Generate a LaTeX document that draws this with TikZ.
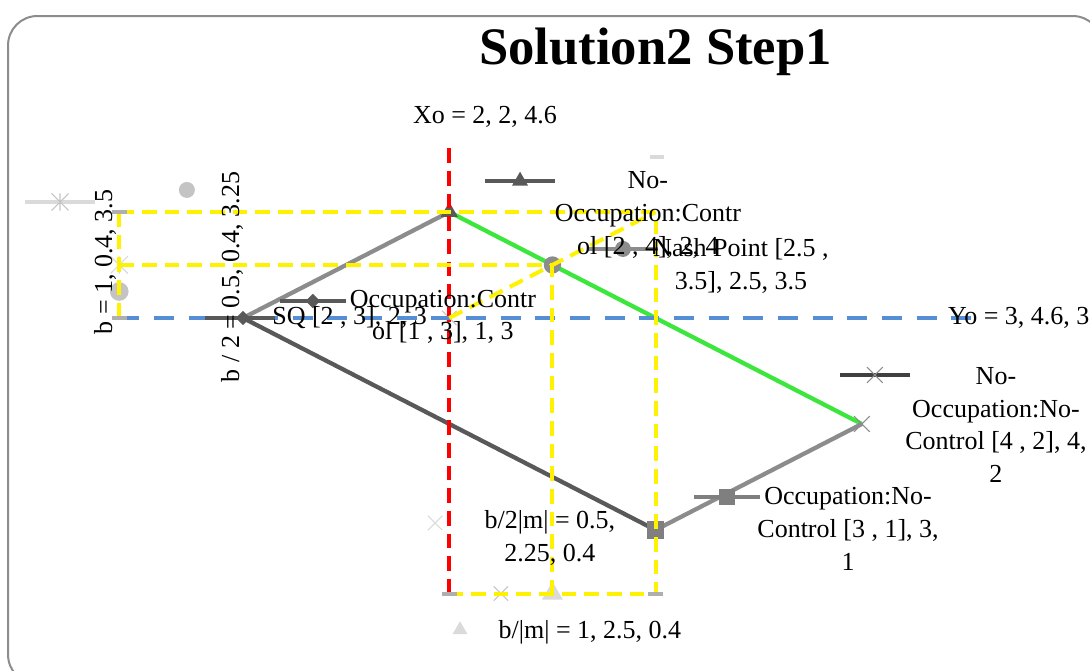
\documentclass[tikz,border=0pt]{standalone}
\usepackage{fontspec}
\setmainfont{Liberation Serif}
\usetikzlibrary{shapes.geometric,shapes.misc}

\definecolor{framegray}{HTML}{8C8C8C}
\definecolor{dkgray}{HTML}{595959}
\definecolor{midgray}{HTML}{7F7F7F}
\definecolor{ltgray}{HTML}{8C8C8C}
\definecolor{palegray}{HTML}{C4C4C4}
\definecolor{fadegray}{HTML}{DADADA}
\definecolor{solgreen}{HTML}{3CE63C}
\definecolor{guideblue}{HTML}{558ED5}

\begin{document}
\begin{tikzpicture}[x=154.725pt, y=79.5pt,
  lbl/.style={font=\fontsize{19.5}{24.5}\selectfont, align=center, inner sep=0pt},
  seg/.style={line width=3.2pt},
  guide/.style={line width=3pt, dash pattern=on 11pt off 6pt},
  keyline/.style={line width=3.5pt},
  diamondmark/.style={diamond, fill=#1, inner sep=0pt, minimum size=11pt},
  trimark/.style={regular polygon, regular polygon sides=3, fill=#1, inner sep=0pt, minimum size=14pt},
  dotmark/.style={circle, fill=#1, inner sep=0pt, minimum size=12pt},
  sqmark/.style={rectangle, fill=#1, inner sep=0pt, minimum size=12pt},
  xmark/.style={cross out, draw=#1, line width=0.8pt, inner sep=0pt, minimum size=10pt},
  dashmark/.style={rectangle, fill=#1, inner sep=0pt, minimum width=11pt, minimum height=3pt},
  astmark/.style={rectangle, inner sep=0pt, minimum size=13pt, path picture={
    \draw[#1, line width=0.8pt] (path picture bounding box.north west) -- (path picture bounding box.south east)
      (path picture bounding box.south west) -- (path picture bounding box.north east)
      (path picture bounding box.north) -- (path picture bounding box.south);}}]
\useasboundingbox (-0.178,-0.330) rectangle (5.106,6.0);
\draw[framegray, line width=1.5pt, rounded corners=22pt] (-0.139,-0.453) rectangle (5.164,5.849);
\node[font=\fontsize{39.5}{44}\selectfont\bfseries] (title) at (3.0,5.51) {Solution2 Step1};

% the four outcomes and the Nash point
\coordinate (occC) at (1,3);
\coordinate (noccC) at (2,4);
\coordinate (occNC) at (3,1);
\coordinate (noccNC) at (4,2);
\coordinate (nash) at (2.5,3.5);
% guide ends
\coordinate (xotop) at (2,4.6);
\coordinate (xobot) at (2,0.4);
\coordinate (yoleft) at (0.4,3);
\coordinate (yoright) at (4.6,3);
\coordinate (b4) at (0.4,4);
\coordinate (b35) at (0.4,3.5);
\coordinate (b325) at (0.4,3.25);
\coordinate (tr) at (3,4);
\coordinate (br) at (3,0.4);
\coordinate (m1) at (2.5,0.4);
\coordinate (m2) at (2.25,0.4);
\coordinate (mid) at (2,3);

\draw[seg, ltgray] (occC) -- (noccC);
\draw[seg, solgreen] (noccC) -- (noccNC);
\draw[seg, ltgray] (noccNC) -- (occNC);
\draw[seg, dkgray] (occNC) -- (occC);

\node[diamondmark=dkgray] (pocc) at (occC) {};
\node[trimark=dkgray, minimum size=15pt] (pnocc) at (noccC) {};
\node[sqmark=midgray, minimum size=13pt] (poccnc) at (occNC) {};
\node[xmark=ltgray, minimum size=11pt] (pnoccnc) at (noccNC) {};
\node[dotmark=ltgray, minimum size=13pt] (pnash) at (nash) {};
\node[xmark=palegray] (pmid) at (mid) {};
\node[astmark=fadegray] (pb35) at (b35) {};
\node[dotmark=palegray, minimum size=14pt] (pb325) at (b325) {};
\node[xmark=palegray] (pm2) at (m2) {};
\node[trimark=fadegray, minimum size=18pt] (pm1) at (m1) {};

% guides
\draw[guide, red] (xotop) -- (xobot);
\draw[guide, guideblue, dash pattern=on 15pt off 11pt] (yoleft) -- (yoright);
\draw[guide, yellow] (b4) -- (tr) -- (br) -- (xobot);
\draw[guide, yellow] (b4) -- (yoleft);
\draw[guide, yellow] (b35) -- (nash) -- (m1);
\draw[guide, yellow] (mid) -- (tr);
\node[dashmark=ltgray!70] (db4) at (b4) {};
\node[dashmark=ltgray!70] (dyo) at (yoleft) {};
\node[dashmark=ltgray!70] (dxo) at (xobot) {};
\node[dashmark=ltgray!70] (dbr) at (br) {};

% label keys
\coordinate (ktri) at (2.343,4.292);
\draw[keyline, dkgray] ([xshift=-26pt]ktri) -- ([xshift=26pt]ktri);
\node[trimark=dkgray] (ktrim) at (ktri) {};
\coordinate (kdot) at (2.842,3.651);
\draw[keyline, ltgray] ([xshift=-26pt]kdot) -- ([xshift=26pt]kdot);
\node[dotmark=ltgray] (kdotm) at (kdot) {};
\coordinate (kdia) at (1.339,3.160);
\draw[keyline, dkgray] ([xshift=-25pt]kdia) -- ([xshift=25pt]kdia);
\node[diamondmark=dkgray] (kdiam) at (kdia) {};
\coordinate (ksq) at (0.986,3.0);
\draw[keyline, dkgray] ([xshift=-26pt]ksq) -- ([xshift=26pt]ksq);
\coordinate (kx) at (4.063,2.462);
\draw[keyline, black!75] ([xshift=-26pt]kx) -- ([xshift=26pt]kx);
\node[xmark=ltgray, minimum size=11pt] (kxm) at (kx) {};
\coordinate (kbox) at (3.346,1.311);
\draw[keyline, midgray] ([xshift=-25pt]kbox) -- ([xshift=25pt]kbox);
\node[sqmark=midgray] (kboxm) at (kbox) {};
\coordinate (kast) at (0.113,4.094);
\draw[keyline, fadegray] ([xshift=-26pt]kast) -- ([xshift=26pt]kast);
\node[astmark=palegray] (kastm) at (kast) {};
\node[dotmark=palegray] (kcirc) at (0.728,4.208) {};
\node[xmark=fadegray] (kcross) at (1.931,1.066) {};
\node[trimark=fadegray, minimum size=13pt] (kfade) at (2.052,0.057) {};
\node[dashmark=fadegray] (kdash) at (3.007,4.519) {};

% data labels
\node[lbl] (txo) at (2.173,4.896) {Xo = 2, 2, 4.6};
\node[lbl, anchor=west] (tyo) at (4.417,3.0) {Yo = 3, 4.6, 3};
\node[lbl] (tnocc) at (2.963,3.972) {No-\\Occupation:Contr\\ol [2 , 4], 2, 4};
\node[lbl] (tnash) at (3.414,3.491) {Nash Point [2.5 ,\\3.5], 2.5, 3.5};
\node[lbl] (tocc) at (1.969,3.009) {Occupation:Contr\\ol [1 , 3], 1, 3};
\node[lbl, anchor=west] (tsq) at (1.141,3.0) {SQ [2 , 3], 2, 3};
\node[lbl] (tnonc) at (4.650,1.991) {No-\\Occupation:No-\\Control [4 , 2], 4,\\2};
\node[lbl] (toccnc) at (3.933,1.009) {Occupation:No-\\Control [3 , 1], 3,\\1};
\node[lbl, rotate=90] (tb) at (0.331,3.528) {b = 1, 0.4, 3.5};
\node[lbl, rotate=90] (tb2) at (0.947,3.387) {b / 2 = 0.5, 0.4, 3.25};
\node[lbl] (tbm2) at (2.488,0.925) {b/2|m| = 0.5,\\2.25, 0.4};
\node[lbl] (tbm) at (2.682,0.038) {b/|m| = 1, 2.5, 0.4};
\end{tikzpicture}
\end{document}
